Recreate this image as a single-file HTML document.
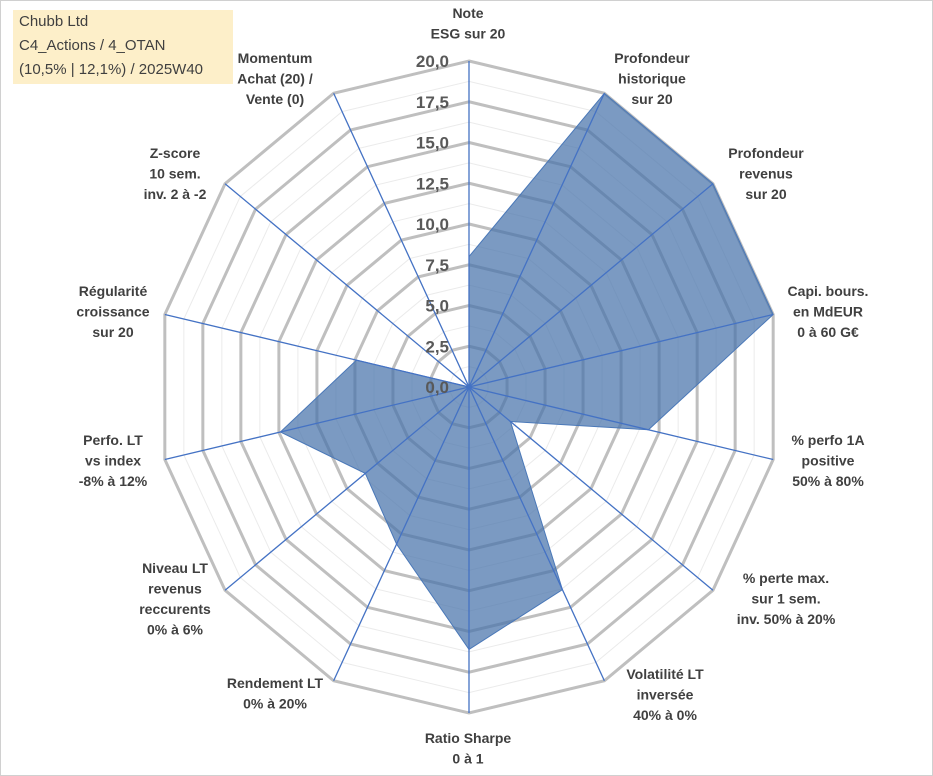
<!DOCTYPE html>
<html><head><meta charset="utf-8"><style>
html,body{margin:0;padding:0;background:#fff;}
#wrap{position:relative;width:933px;height:776px;overflow:hidden;font-family:"Liberation Sans",Arial,sans-serif;}
svg{position:absolute;left:0;top:0;}
#title{position:absolute;left:13px;top:10px;width:220px;height:74px;background:#fdefc9;color:#404040;font-size:15px;line-height:24px;padding:0 0 0 6px;box-sizing:border-box;}
</style></head><body>
<div id="wrap">
<svg id="chart" width="933" height="776">
<rect x="0.5" y="0.5" width="932" height="775" fill="#fff" stroke="#d0d0d0"/>
<g id="grid"></g><g id="series"></g><g id="axes"></g><g id="ticks"></g><g id="labels"></g>
</svg>
<div id="title">Chubb Ltd<br>C4_Actions / 4_OTAN<br>(10,5% | 12,1%) / 2025W40</div>
</div>
<script>
const categories = [
 ["Note","ESG sur 20"],
 ["Profondeur","historique","sur 20"],
 ["Profondeur","revenus","sur 20"],
 ["Capi. bours.","en MdEUR","0 à 60 G€"],
 ["% perfo 1A","positive","50% à 80%"],
 ["% perte max.","sur 1 sem.","inv. 50% à 20%"],
 ["Volatilité LT","inversée","40% à 0%"],
 ["Ratio Sharpe","0 à 1"],
 ["Rendement LT","0% à 20%"],
 ["Niveau LT","revenus","reccurents","0% à 6%"],
 ["Perfo. LT","vs index","-8% à 12%"],
 ["Régularité","croissance","sur 20"],
 ["Z-score","10 sem.","inv. 2 à -2"],
 ["Momentum","Achat (20) /","Vente (0)"]
];
const values = [8, 20, 20, 20, 11.8, 3.4, 13.8, 16.1, 10.7, 8.5, 12.4, 7.4, 0, 0];
const tickValues = [0, 2.5, 5, 7.5, 10, 12.5, 15, 17.5, 20];
const tickLabels = ["0,0","2,5","5,0","7,5","10,0","12,5","15,0","17,5","20,0"];
const maxValue = 20;

const NS="http://www.w3.org/2000/svg";
const cx=469, cy=387, RX=312, RY=326;
const N=categories.length;
function ang(i){return i*2*Math.PI/N;}
function pt(i,v){const f=v/maxValue;return [cx+f*RX*Math.sin(ang(i)), cy-f*RY*Math.cos(ang(i))];}
function mk(tag,attrs,parent){const e=document.createElementNS(NS,tag);for(const k in attrs)e.setAttribute(k,attrs[k]);parent.appendChild(e);return e;}
const grid=document.getElementById('grid'),series=document.getElementById('series'),axes=document.getElementById('axes'),ticks=document.getElementById('ticks'),labels=document.getElementById('labels');
for(let k=1;k<=16;k++){
 if(k%2===0)continue;
 const v=k*maxValue/16;const p=[];for(let i=0;i<N;i++)p.push(pt(i,v).join(','));
 const e=mk('polygon',{points:p.join(' '),fill:'none',stroke:'#ebebeb','stroke-width':1},grid);
 
 
}
tickValues.forEach((v,j)=>{
 if(v===0)return;
 const p=[];for(let i=0;i<N;i++)p.push(pt(i,v).join(','));
 const e=mk('polygon',{points:p.join(' '),fill:'none',stroke:'#bfbfbf','stroke-width':3},grid);
 
 
});
const sp=values.map((v,i)=>pt(i,v).join(',')).join(' ');
const poly=mk('polygon',{points:sp,fill:'rgba(72,115,170,0.72)',stroke:'#4a78b8','stroke-width':1},series);


for(let i=0;i<N;i++){
 const [x,y]=pt(i,maxValue);
 const l=mk('line',{x1:cx,y1:cy,x2:x,y2:y,stroke:'#4472c4','stroke-width':1.3},axes);
 
 
}
tickValues.forEach((v,j)=>{
 const y=cy-v/maxValue*RY;
 const t=mk('text',{x:cx-20,y:y+6,'text-anchor':'end','font-size':17,'font-weight':'bold',fill:'#595959'},ticks);
 t.textContent=tickLabels[j];
 
 
});
const labelPos=[[468,18],[652,63],[766,158],[828,296],[828,445],[786,583],[665,679],[468,743],[275,688],[175,573],[113,445],[113,296],[175,158],[275,63]];
categories.forEach((lines,i)=>{
 const t=mk('text',{x:labelPos[i][0],y:labelPos[i][1],'text-anchor':'middle','font-size':14,'font-weight':'bold',fill:'#404040'},labels);
 
 
 lines.forEach((s,k)=>{const ts=mk('tspan',{x:labelPos[i][0],dy:k===0?0:20.5},t);ts.textContent=s;});
});
</script>
</body></html>
